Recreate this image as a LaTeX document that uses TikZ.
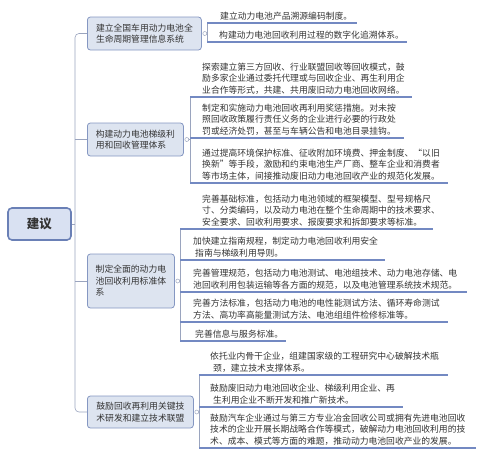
\documentclass[tikz,border=0pt]{standalone}
\usepackage{fontspec}
\setmainfont{Noto Sans CJK SC}
\definecolor{txt}{HTML}{333333}
\definecolor{lnc}{HTML}{9AA4BE}
\definecolor{ulc}{HTML}{7389C2}
\definecolor{bbd}{HTML}{8597C2}
\definecolor{bbf}{HTML}{DDE4F0}
\definecolor{rbd}{HTML}{6A80B6}
\definecolor{rbf}{HTML}{D9E1F2}
\begin{document}
\begin{tikzpicture}[x=1pt,y=-1pt,
  every node/.style={font=\fontsize{8.8}{11.5}\selectfont, text=txt},
  conn/.style={draw=lnc, line width=0.6pt},
  uline/.style={draw=ulc, line width=1.1pt},
  branch/.style={draw=bbd, fill=bbf, rounded corners=3pt, line width=0.8pt, anchor=west, align=left, inner xsep=8pt, inner ysep=3pt},
  rootbox/.style={draw=rbd, fill=rbf, rounded corners=4pt, line width=1.6pt, minimum width=63pt, minimum height=32pt, font=\fontsize{12.5}{14}\selectfont\bfseries},
  leaf/.style={anchor=south west, align=left, inner xsep=0pt, inner ysep=2.6pt},
  dot/.style={circle, draw=lnc, fill=white, inner sep=0pt, minimum size=4pt, line width=0.5pt}]
\useasboundingbox (0,0) rectangle (485,458);

% root and branches
\node[rootbox] (root) at (39.5,224) {建议};
\node[branch, minimum width=114pt, minimum height=33pt] (b1) at (87,33.5) {建立全国车用动力电池全\\生命周期管理信息系统};
\node[branch, minimum width=96pt, minimum height=33pt] (b2) at (87,139.5) {构建动力电池梯级利\\用和回收管理体系};
\node[branch, minimum width=87pt, minimum height=54pt] (b3) at (87,281) {制定全面的动力电\\池回收利用标准体\\系};
\node[branch, minimum width=106pt, minimum height=32pt] (b4) at (87,412) {鼓励回收再利用关键技\\术研发和建立技术联盟};

\coordinate (main) at (75,0);
\coordinate (v1) at (207,0);
\coordinate (v2) at (190,0);
\coordinate (v3) at (180,0);
\coordinate (v4) at (199,0);

\draw[conn, rounded corners=4pt] (b1.west) -- (b1.west -| main) -- (b4.west -| main) -- (b4.west);
\draw[conn] (b2.west) -- (b2.west -| main);
\draw[conn] (b3.west) -- (b3.west -| main);
\draw[conn] (root.east) -- (root.east -| main);

% branch 1 leaves
\node[leaf, text width=137pt] (l11) at (220,23) {建立动力电池产品溯源编码制度。};
\node[leaf, text width=188pt] (l12) at (219,42) {构建动力电池回收利用过程的数字化追溯体系。};
% branch 2 leaves
\node[leaf, text width=210pt] (l21) at (202,97) {探索建立第三方回收、行业联盟回收等回收模式，鼓\\励多家企业通过委托代理或与回收企业、再生利用企\\业合作等形式，共建、共用废旧动力电池回收网络。};
\node[leaf, text width=202pt] (l22) at (202,138) {制定和实施动力电池回收再利用奖惩措施。对未按\\照回收政策履行责任义务的企业进行必要的行政处\\罚或经济处罚，甚至与车辆公告和电池目录挂钩。};
\node[leaf, text width=246pt] (l23) at (202,183) {通过提高环境保护标准、征收附加环境费、押金制度、“以旧\\换新”等手段，激励和约束电池生产厂商、整车企业和消费者\\等市场主体，间接推动废旧动力电池回收产业的规范化发展。};
% branch 3 leaves
\node[leaf, text width=231pt] (l31) at (202,229) {完善基础标准，包括动力电池领域的框架模型、型号规格尺\\寸、分类编码，以及动力电池在整个生命周期中的技术要求、\\安全要求、回收利用要求、报废要求和拆卸要求等标准。};
\node[leaf, text width=192pt] (l32) at (193,260) {加快建立指南规程，制定动力电池回收利用安全\\\hspace*{2pt}指南与梯级利用导则。};
\node[leaf, text width=274pt] (l33) at (193,292) {完善管理规范，包括动力电池测试、电池组技术、动力电池存储、电\\池回收利用包装运输等各方面的规范，以及电池管理系统技术规范。};
\node[leaf, text width=255pt] (l34) at (193,322) {完善方法标准，包括动力电池的电性能测试方法、循环寿命测试\\方法、高功率高能量测试方法、电池组组件检修标准等。};
\node[leaf, text width=91pt] (l35) at (195,341) {完善信息与服务标准。};
% branch 4 leaves
\node[leaf, text width=238pt] (l41) at (210,375) {依托业内骨干企业，组建国家级的工程研究中心破解技术瓶\\\hspace*{3pt}颈，建立技术支撑体系。};
\node[leaf, text width=193pt] (l42) at (210,407) {鼓励废旧动力电池回收企业、梯级利用企业、再\\\hspace*{3pt}生利用企业不断开发和推广新技术。};
\node[leaf, text width=266pt] (l43) at (210,448) {鼓励汽车企业通过与第三方专业冶金回收公司或拥有先进电池回收\\技术的企业开展长期战略合作等模式，破解动力电池回收利用的技\\术、成本、模式等方面的难题，推动动力电池回收产业的发展。};

% vertical leaf connectors
\draw[conn] (l11.south -| v1) -- (l12.south -| v1);
\draw[conn] (l21.south -| v2) -- (l23.south -| v2);
\draw[conn] (l31.south -| v3) -- (l35.south -| v3);
\draw[conn] (l41.south -| v4) -- (l43.south -| v4);

% underlines
\foreach \l/\v in {l11/v1,l12/v1,l21/v2,l22/v2,l23/v2,l31/v3,l32/v3,l33/v3,l34/v3,l35/v3,l41/v4,l42/v4,l43/v4}
  \draw[uline] (\l.south -| \v) -- (\l.south east);

% branch connector dots
\node[dot] (d1) at ([xshift=3pt]b1.east) {};
\node[dot] (d2) at ([xshift=3pt]b2.east) {};
\node[dot] (d3) at ([xshift=3pt]b3.east) {};
\node[dot] (d4) at ([xshift=3pt]b4.east) {};
\draw[conn] (d1.east) -- (d1.east -| v1);
\draw[conn] (d2.east) -- (d2.east -| v2);
\draw[conn] (d3.east) -- (d3.east -| v3);
\draw[conn] (d4.east) -- (d4.east -| v4);
\end{tikzpicture}
\end{document}
